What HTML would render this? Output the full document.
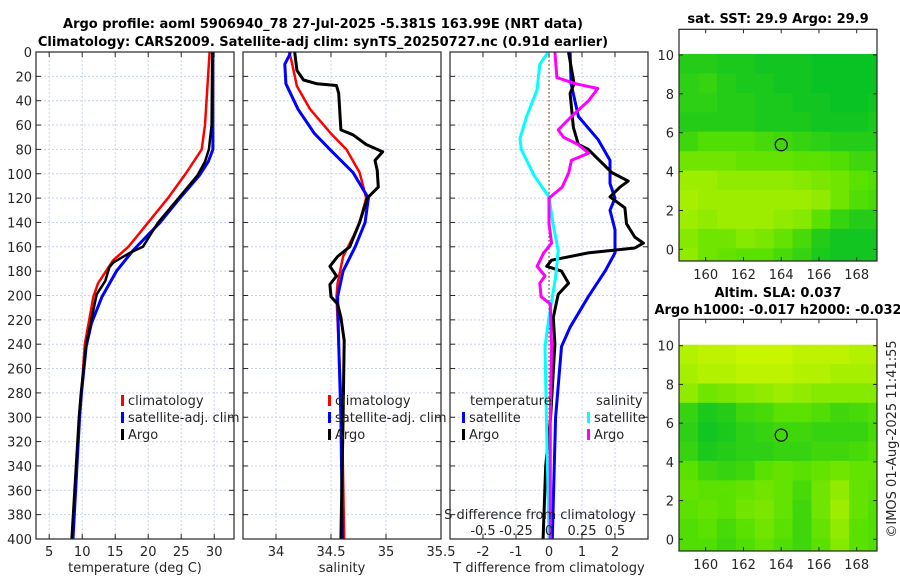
<!DOCTYPE html>
<html><head><meta charset="utf-8"><style>
html,body{margin:0;padding:0;background:#fff}
svg{display:block;font-family:"DejaVu Sans","Liberation Sans",sans-serif}
text{fill:#262626;font-size:13px}
.b{font-weight:bold;fill:#000}
</style></head><body>
<svg id="s" width="900" height="580" viewBox="0 0 900 580">
<text class="b" x="323" y="28" text-anchor="middle">Argo profile: aoml 5906940_78 27-Jul-2025 -5.381S 163.99E (NRT data)</text>
<text class="b" x="323" y="46" text-anchor="middle">Climatology: CARS2009. Satellite-adj clim: synTS_20250727.nc (0.91d earlier)</text>
<text class="b" x="778" y="23" text-anchor="middle">sat. SST: 29.9 Argo: 29.9</text>
<text class="b" x="778" y="297" text-anchor="middle">Altim. SLA: 0.037</text>
<text class="b" x="778" y="314" text-anchor="middle">Argo h1000: -0.017 h2000: -0.032</text>
<text x="0" y="0" transform="translate(896,439) rotate(-90)" text-anchor="middle">©IMOS 01-Aug-2025 11:41:55</text>
</svg>
<script>
// ---- data ----
const depthTicks=[0,20,40,60,80,100,120,140,160,180,200,220,240,260,280,300,320,340,360,380,400];
const tTicks=[5,10,15,20,25,30];
const sTicks=[34,34.5,35,35.5];
const dTicks=[-2,-1,0,1,2];
const sdTicks=[-0.5,-0.25,0,0.25,0.5];
const sdTickLabels=['-0.5','-0.25','0','0.25','0.5'];

const tClimD=[0,60,80,99,120,140,160,171,190,201,240,280,300,400];
const tClimV=[29.3,28.6,28.1,25.8,23.0,20.0,17.0,14.7,12.4,11.7,10.4,9.9,9.6,8.5];
const tSatD=[0,80,90,101,120,140,163,180,201,223,242,280,300,400];
const tSatV=[29.8,29.8,29.1,27.8,24.8,21.8,17.7,15.2,13.0,11.4,10.6,9.9,9.6,8.6];
const tArgoD=[0,60,80,90,101,120,140,160,165,173,177,188,199,240,280,300,400];
const tArgoV=[29.7,29.6,29.2,28.6,27.5,24.6,21.5,19.2,17.2,14.7,14.1,13.5,12.2,10.6,9.8,9.5,8.4];

const sClimD=[0,7,28,47,67,80,99,120,140,152,168,190,201,240,300,400];
const sClimV=[34.12,34.14,34.19,34.31,34.50,34.64,34.76,34.82,34.76,34.70,34.61,34.56,34.55,34.57,34.60,34.62];
const sSatD=[0,3,10,26,47,67,80,99,120,140,160,180,201,240,300,400];
const sSatV=[34.13,34.12,34.08,34.09,34.20,34.35,34.49,34.70,34.84,34.81,34.72,34.61,34.56,34.57,34.59,34.605];
const sArgoD=[0,15,23,26,27.5,34,64,68,76,82,89,97,111,120,140,160,168,176,184,191,201,207,218,237,300,400];
const sArgoV=[34.17,34.19,34.25,34.37,34.55,34.57,34.59,34.70,34.82,34.97,34.90,34.92,34.93,34.83,34.76,34.67,34.56,34.49,34.55,34.49,34.50,34.56,34.59,34.62,34.61,34.59];

const dtSatD=[0,26,53,72,89,108,120,130,146,165,180,201,226,242,300,400];
const dtSatV=[0.64,0.67,0.89,1.49,1.85,1.85,2.0,1.85,2.0,2.0,1.7,1.19,0.64,0.38,0.2,0.1];
const dtArgoD=[0,26,34,62,76,80,99,106,111,119,128,141,152,157,161,165,171,176,180,190,199,218,240,300,340,400];
const dtArgoV=[0.59,0.76,0.64,0.74,0.89,1.19,1.9,2.4,2.15,1.85,2.3,2.35,2.6,2.86,2.6,1.19,0.08,-0.07,0.38,0.59,0.28,0.13,0.18,0.05,-0.1,-0.18];
const dsSatD=[0,10,31,53,71,80,102,119,141,163,185,218,242,300,400];
const dsSatV=[-0.005,-0.07,-0.09,-0.17,-0.22,-0.21,-0.11,0,0.03,0.07,0.05,0,-0.03,-0.02,0];
const dsArgoD=[0,21,26,30,40,53,64,70,76,83,89,99,111,120,141,157,165,176,184,190,201,207,242,300,400];
const dsArgoV=[0.045,0.06,0.2,0.37,0.30,0.17,0.07,0.11,0.22,0.30,0.17,0.15,0.10,0,0,0.02,-0.04,-0.09,-0.03,-0.07,-0.06,0.01,0.02,0.01,0.01];

const lonTicks=[160,162,164,166,168];
const latTicks=[0,2,4,6,8,10];
const sstGrid=[
[0.2,0.2,0.15,0.15,0.1,0.1,0.1,0.05,0.05,0.05,0.05],
[0.25,0.3,0.2,0.15,0.15,0.1,0.1,0.05,0.05,0.05,0.05],
[0.25,0.25,0.2,0.2,0.15,0.15,0.1,0.1,0.05,0.05,0.1],
[0.2,0.2,0.2,0.2,0.15,0.15,0.15,0.1,0.1,0.1,0.15],
[0.35,0.45,0.45,0.45,0.4,0.35,0.3,0.25,0.2,0.2,0.2],
[0.6,0.6,0.6,0.55,0.55,0.55,0.5,0.5,0.45,0.35,0.35],
[0.8,0.8,0.75,0.75,0.75,0.75,0.7,0.65,0.6,0.5,0.45],
[0.85,0.8,0.8,0.8,0.8,0.8,0.8,0.75,0.6,0.45,0.4],
[0.8,0.75,0.8,0.8,0.8,0.75,0.7,0.5,0.3,0.2,0.2],
[0.7,0.6,0.6,0.7,0.65,0.55,0.4,0.2,0.1,0.1,0.1],
[0.75,0.6,0.55,0.5,0.5,0.4,0.3,0.15,0.1,0.1,0.1]];
const slaGrid=[
[0.9,0.95,0.95,1,1,1,0.95,0.95,0.95,0.9,0.9],
[0.85,0.9,0.9,0.95,0.95,0.95,0.9,0.9,0.85,0.85,0.85],
[0.75,0.6,0.65,0.7,0.75,0.8,0.75,0.7,0.7,0.7,0.7],
[0.3,0.15,0.2,0.35,0.4,0.5,0.5,0.45,0.35,0.4,0.45],
[0.25,0.1,0.15,0.25,0.3,0.35,0.35,0.3,0.3,0.3,0.4],
[0.3,0.15,0.2,0.25,0.25,0.3,0.3,0.35,0.35,0.4,0.45],
[0.5,0.35,0.3,0.35,0.5,0.55,0.5,0.55,0.6,0.55,0.55],
[0.55,0.5,0.5,0.55,0.6,0.55,0.4,0.6,0.75,0.55,0.5],
[0.5,0.55,0.5,0.6,0.65,0.55,0.35,0.6,0.8,0.55,0.45],
[0.45,0.5,0.4,0.5,0.6,0.5,0.35,0.55,0.75,0.5,0.45],
[0.45,0.45,0.35,0.45,0.55,0.45,0.35,0.5,0.7,0.5,0.45]];
const argoLon=164, argoLat=5.38;

// ---- drawing ----
const svg=document.getElementById('s');
const NS='http://www.w3.org/2000/svg';
function mk(tag,attrs,parent){const e=document.createElementNS(NS,tag);for(const k in attrs)e.setAttribute(k,attrs[k]);(parent||svg).appendChild(e);return e;}
const top0=52,bot0=539;
const yD=d=>top0+(d/400)*(bot0-top0);
function lin(d0,d1,r0,r1){return v=>r0+(v-d0)/(d1-d0)*(r1-r0);}

function panel(name,x0,x1,xf,ticks,tickLabels,yLabels,xlabel){
  const g=mk('g',{});
  
  
  depthTicks.forEach(d=>{const l=mk('line',{x1:x0,x2:x1,y1:yD(d),y2:yD(d),stroke:'#c8d2ec','stroke-width':1,'stroke-dasharray':'2,2'},g);
    
    mk('line',{x1:x0,x2:x0+5,y1:yD(d),y2:yD(d),stroke:'#262626'},g);mk('line',{x1:x1-5,x2:x1,y1:yD(d),y2:yD(d),stroke:'#262626'},g);
    if(yLabels){const t=mk('text',{x:x0-4,y:yD(d)+5,'text-anchor':'end'},g);t.textContent=d;
      }
  });
  ticks.forEach((v,i)=>{const x=xf(v);
    const l=mk('line',{x1:x,x2:x,y1:top0,y2:bot0,stroke:'#c8d2ec','stroke-width':1,'stroke-dasharray':'2,2'},g);
    
    mk('line',{x1:x,x2:x,y1:bot0-5,y2:bot0,stroke:'#262626'},g);mk('line',{x1:x,x2:x,y1:top0,y2:top0+5,stroke:'#262626'},g);
    const t=mk('text',{x:x,y:556,'text-anchor':'middle'},g);t.textContent=tickLabels[i];
    
  });
  const xl=mk('text',{x:(x0+x1)/2,y:572,'text-anchor':'middle'},g);xl.textContent=xlabel;
  
  return g;
}
function frame(x0,x1,g){const r=mk('rect',{x:x0,y:top0,width:x1-x0,height:bot0-top0,fill:'none',stroke:'#262626','stroke-width':1.2},g);
  }
function series(g,xf,D,V,color,w,name){
  const pts=D.map((d,i)=>xf(V[i]).toFixed(1)+','+yD(d).toFixed(1)).join(' ');
  const p=mk('polyline',{points:pts,fill:'none',stroke:color,'stroke-width':w,'stroke-linejoin':'round'},g);
  
}
function legend(g,x,y,color,label){
  mk('rect',{x:x,y:y-10,width:3,height:11,fill:color},g);
  const t=mk('text',{x:x+7,y:y},g);t.textContent=label;
  
}

// panel 1
const xT=lin(3,33,36,234);
const g1=panel('temperature-panel',36,234,xT,tTicks,tTicks,true,'temperature (deg C)');
series(g1,xT,tClimD,tClimV,'#ff0000',2.5,'temp-climatology-line');
series(g1,xT,tSatD,tSatV,'#0000ff',3,'temp-satellite-line');
series(g1,xT,tArgoD,tArgoV,'#000000',2.5,'temp-argo-line');
frame(36,234,g1);
legend(g1,121,405,'#ff0000','climatology');legend(g1,121,422,'#0000ff','satellite-adj. clim');legend(g1,121,439,'#000000','Argo');

// panel 2
const xS=lin(33.7,35.5,243,441);
const g2=panel('salinity-panel',243,441,xS,sTicks,['34','34.5','35','35.5'],false,'salinity');
series(g2,xS,sClimD,sClimV,'#ff0000',2.5,'sal-climatology-line');
series(g2,xS,sSatD,sSatV,'#0000ff',3,'sal-satellite-line');
series(g2,xS,sArgoD,sArgoV,'#000000',3,'sal-argo-line');
frame(243,441,g2);
legend(g2,328,405,'#ff0000','climatology');legend(g2,328,422,'#0000ff','satellite-adj. clim');legend(g2,328,439,'#000000','Argo');

// panel 3
const xDT=lin(-3,3,450,648), xDS=lin(-0.75,0.75,450,648);
const g3=panel('difference-panel',450,648,xDT,dTicks,dTicks,false,'T difference from climatology');
const zl=mk('line',{x1:xDT(0),x2:xDT(0),y1:top0,y2:bot0,stroke:'#6b4a2a','stroke-width':1.2,'stroke-dasharray':'1.5,2.5'},g3);

series(g3,xDT,dtSatD,dtSatV,'#0000ff',3,'dT-satellite-line');
series(g3,xDT,dtArgoD,dtArgoV,'#000000',3,'dT-argo-line');
series(g3,xDS,dsSatD,dsSatV,'#00ffff',3,'dS-satellite-line');
series(g3,xDS,dsArgoD,dsArgoV,'#ff00ff',3,'dS-argo-line');
frame(450,648,g3);
{const t=mk('text',{x:540,y:519,'text-anchor':'middle'},g3);t.textContent='S difference from climatology';
 }
sdTicks.forEach((v,i)=>{const t=mk('text',{x:xDS(v),y:535,'text-anchor':'middle'},g3);t.textContent=sdTickLabels[i];
 });
{const t=mk('text',{x:470,y:405},g3);t.textContent='temperature';}
{const t=mk('text',{x:596,y:405},g3);t.textContent='salinity';}
legend(g3,462,422,'#0000ff','satellite');legend(g3,462,439,'#000000','Argo');
legend(g3,587,422,'#00ffff','satellite');legend(g3,587,439,'#ff00ff','Argo');

// maps
function color(v){const a=[0,190,40],b=[90,225,0],c=[200,245,0];
  let p,q,t;if(v<0.5){p=a;q=b;t=v/0.5}else{p=b;q=c;t=(v-0.5)/0.5}
  return 'rgb('+p.map((x,i)=>Math.round(x+(q[i]-x)*t)).join(',')+')';}
function map(name,fy0,fy1,lat10y,lat0y,grid){
  const fx0=679,fx1=877;
  const xL=lin(160,168,705.7,856.7), yL=lin(0,10,lat0y,lat10y);
  const g=mk('g',{});
  
  const cid='c'+name;
  const cp=mk('clipPath',{id:cid},g);mk('rect',{x:fx0,y:fy0,width:fx1-fx0,height:fy1-fy0},cp);
  const cg=mk('g',{'clip-path':'url(#'+cid+')'},g);
  grid.forEach((row,r)=>row.forEach((v,c)=>{
    const lon0=158.6+c, lat1=10.05-r;
    const x=xL(lon0), y=yL(lat1);
    const rc=mk('rect',{x:x.toFixed(1),y:y.toFixed(1),width:(xL(lon0+1)-x+0.5).toFixed(1),height:(yL(lat1-1)-y+0.5).toFixed(1),fill:color(v)},cg);
    
  }));
  const ci=mk('circle',{cx:xL(argoLon),cy:yL(argoLat),r:6,fill:'none',stroke:'#000','stroke-width':1.2},g);
  
  const fr=mk('rect',{x:fx0,y:fy0,width:fx1-fx0,height:fy1-fy0,fill:'none',stroke:'#262626','stroke-width':1.2},g);
  
  lonTicks.forEach(v=>{const x=xL(v);mk('line',{x1:x,x2:x,y1:fy1,y2:fy1-4,stroke:'#262626'},g);mk('line',{x1:x,x2:x,y1:fy0,y2:fy0+4,stroke:'#262626'},g);
    const t=mk('text',{x:x,y:fy1+18,'text-anchor':'middle'},g);t.textContent=v;
    });
  latTicks.forEach(v=>{const y=yL(v);mk('line',{x1:fx0,x2:fx0+4,y1:y,y2:y,stroke:'#262626'},g);mk('line',{x1:fx1,x2:fx1-4,y1:y,y2:y,stroke:'#262626'},g);
    const t=mk('text',{x:fx0-5,y:y+5,'text-anchor':'end'},g);t.textContent=v;
    });
}
map('sst-map',29.3,261,55,249.3,sstGrid);
map('sla-map',319.3,551,345.7,539.3,slaGrid);
</script>
</body></html>
